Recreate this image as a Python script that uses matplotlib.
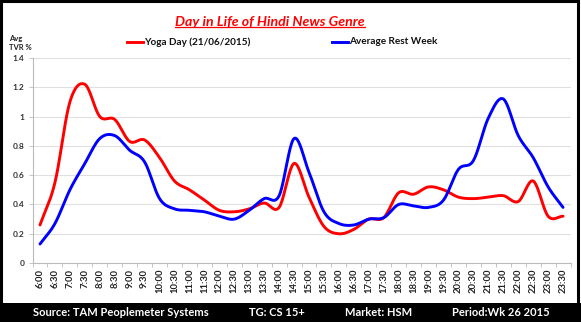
import numpy as np
import matplotlib
matplotlib.use("Agg")
import matplotlib.pyplot as plt
from matplotlib.patches import Rectangle
from matplotlib.lines import Line2D

times = ["6:00", "6:30", "7:00", "7:30", "8:00", "8:30", "9:00", "9:30", "10:00", "10:30",
         "11:00", "11:30", "12:00", "12:30", "13:00", "13:30", "14:00", "14:30", "15:00", "15:30",
         "16:00", "16:30", "17:00", "17:30", "18:00", "18:30", "19:00", "19:30", "20:00", "20:30",
         "21:00", "21:30", "22:00", "22:30", "23:00", "23:30"]
yoga_day = [0.26, 0.55, 1.10, 1.22, 1.00, 0.98, 0.83, 0.84, 0.72, 0.56,
            0.50, 0.43, 0.36, 0.35, 0.37, 0.41, 0.38, 0.68, 0.45, 0.25,
            0.20, 0.23, 0.30, 0.31, 0.48, 0.47, 0.52, 0.50, 0.45, 0.44,
            0.45, 0.46, 0.42, 0.56, 0.32, 0.32]
rest_week = [0.13, 0.27, 0.50, 0.68, 0.85, 0.87, 0.77, 0.69, 0.44, 0.37,
             0.36, 0.35, 0.32, 0.30, 0.36, 0.44, 0.46, 0.85, 0.62, 0.35,
             0.27, 0.26, 0.30, 0.31, 0.40, 0.39, 0.38, 0.43, 0.64, 0.70,
             0.99, 1.12, 0.87, 0.72, 0.52, 0.38]
yticks = [0, 0.2, 0.4, 0.6, 0.8, 1, 1.2, 1.4]
ytick_labels = ["0", "0.2", "0.4", "0.6", "0.8", "1", "1.2", "1.4"]
footer = ["Source: TAM Peoplemeter Systems", "TG: CS 15+", "Market: HSM", "Period:Wk 26 2015"]

FONT = ["Lato", "DejaVu Sans"]
plt.rcParams['font.family'] = FONT


def smooth(y, n=20):
    y = np.asarray(y, float)
    x = np.arange(len(y), dtype=float)
    P = np.column_stack([x, y])
    P = np.vstack([P[0] * 2 - P[1], P, P[-1] * 2 - P[-2]])
    out = []
    t = np.linspace(0, 1, n, endpoint=False)[:, None]
    for i in range(1, len(P) - 2):
        p0, p1, p2, p3 = P[i - 1], P[i], P[i + 1], P[i + 2]
        seg = 0.5 * ((2 * p1) + (-p0 + p2) * t + (2 * p0 - 5 * p1 + 4 * p2 - p3) * t ** 2
                     + (-p0 + 3 * p1 - 3 * p2 + p3) * t ** 3)
        out.append(seg)
    out.append(P[-2][None, :])
    out = np.vstack(out)
    return out[:, 0], out[:, 1]


fig = plt.figure(figsize=(5.81, 3.22), dpi=100)
fig.patch.set_facecolor("white")

ax = fig.add_axes([0.056, 0.183, 0.926, 0.637])
x = np.arange(len(times))
xs, ys = smooth(yoga_day)
ax.plot(xs, ys, color="#FF0000", lw=2.1, solid_capstyle="round")
xs, ys = smooth(rest_week)
ax.plot(xs, ys, color="#0000FF", lw=2.1, solid_capstyle="round")

ax.set_xlim(-0.5, len(times) - 0.5)
ax.set_ylim(0, 1.4)
ax.set_yticks(yticks)
ax.set_yticklabels(ytick_labels, fontsize=6, fontweight="bold", color="#333333")
ax.set_xticks(x)
ax.set_xticklabels(times, rotation=90, fontsize=6.8, fontweight="bold", color="#222222")
ax.set_xticks(np.arange(-0.5, len(times)), minor=True)
ax.tick_params(axis="x", which="major", length=0, pad=4)
ax.tick_params(axis="x", which="minor", length=3, color="#BBBBBB", width=0.6)
ax.tick_params(axis="y", length=3, color="#BBBBBB", width=0.6, pad=3)
ax.grid(axis="y", color="#E0E0E0", lw=0.8)
ax.set_axisbelow(True)
for s in ["top", "right"]:
    ax.spines[s].set_visible(False)
ax.spines["left"].set_color("#BBBBBB")
ax.spines["bottom"].set_color("#BBBBBB")
ax.spines["left"].set_linewidth(0.8)
ax.spines["bottom"].set_linewidth(0.8)

# title
t = fig.text(270 / 581, 1 - 22 / 322, "Day in Life of Hindi News Genre", ha="center", va="center",
             color="#FF0000", fontsize=10.2, fontweight="bold", fontstyle="italic")
fig.canvas.draw()
bb = t.get_window_extent()
inv = fig.transFigure.inverted()
(x0, y0), (x1, y1) = inv.transform([[bb.x0, bb.y0], [bb.x1, bb.y1]])
fig.add_artist(Line2D([x0, x1], [y0 + 0.004, y0 + 0.004], color="#FF0000", lw=0.9,
                      transform=fig.transFigure))

# legend
ly = 1 - 42 / 322
fig.add_artist(Line2D([127 / 581, 143 / 581], [ly, ly], color="#FF0000", lw=2.1,
                      transform=fig.transFigure))
fig.text(144 / 581, ly, "Yoga Day (21/06/2015)", ha="left", va="center", fontsize=7.2,
         fontweight="bold", color="#111111")
fig.add_artist(Line2D([332 / 581, 348 / 581], [ly, ly], color="#0000FF", lw=2.1,
                      transform=fig.transFigure))
fig.text(349 / 581, ly, "Average Rest Week", ha="left", va="center", fontsize=7.2,
         fontweight="bold", color="#111111")

fig.text(9 / 581, 1 - 43 / 322, "Avg\nTVR %", ha="left", va="center", fontsize=5.5,
         fontweight="bold", color="#222222", linespacing=1.2)

# footer band
fig.add_artist(Rectangle((0, 0), 1, 19 / 322, transform=fig.transFigure,
                         facecolor="black", edgecolor="none"))
fy = 9.5 / 322
pos = [33, 249, 345, 452]
for p, s in zip(pos, footer):
    fig.text(p / 581, fy, s, ha="left", va="center", fontsize=8, fontweight="bold",
             color="white")

# border
fig.add_artist(Rectangle((0.002, 0.003), 0.993, 0.994, transform=fig.transFigure,
                         facecolor="none", edgecolor="black", lw=2.2))

fig.savefig("out.png", dpi=100)
